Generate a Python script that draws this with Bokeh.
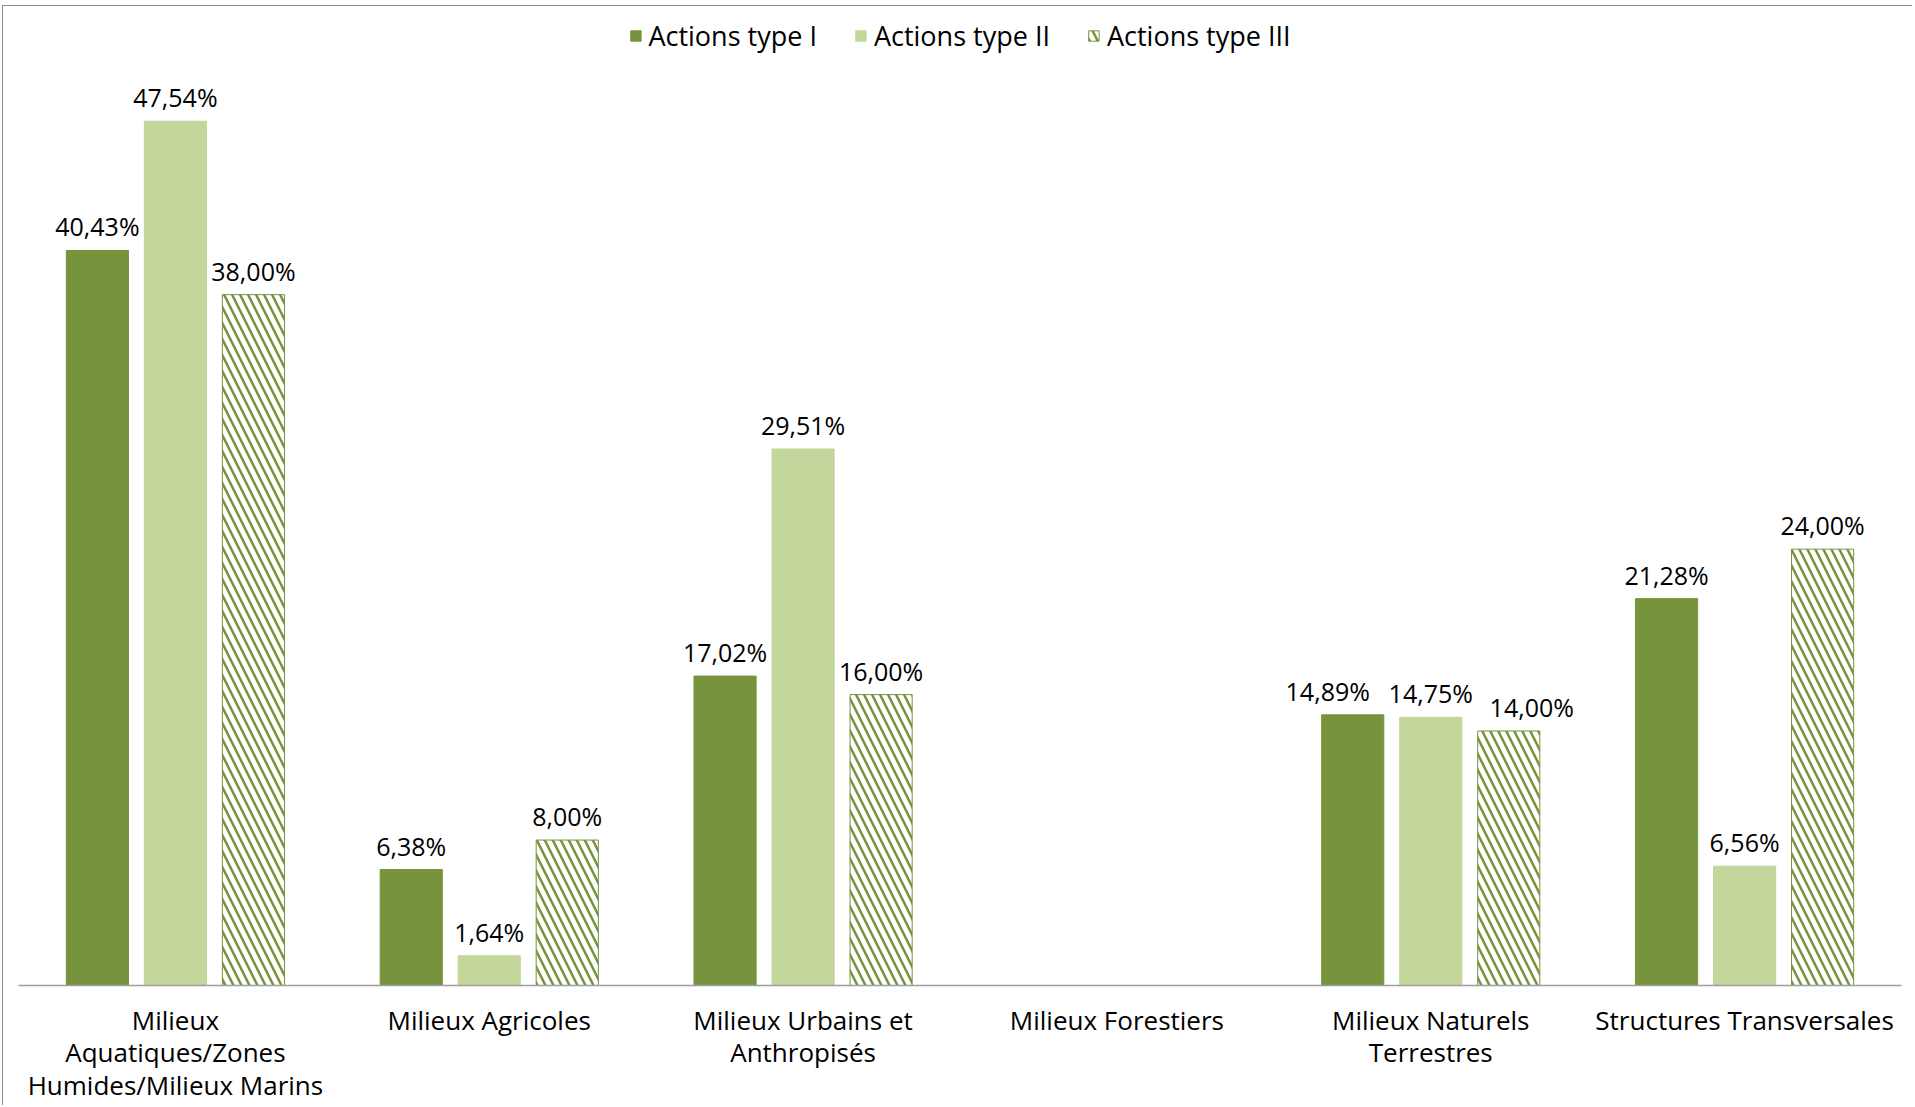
from bokeh.plotting import figure
from bokeh.models import ColumnDataSource, FactorRange, Legend, LegendItem
from bokeh.transform import dodge
from bokeh.embed import file_html
from bokeh.resources import INLINE
from bokeh.core.properties import value

NAN = float("nan")

categories = [
    "Milieux\nAquatiques/Zones\nHumides/Milieux Marins",
    "Milieux Agricoles",
    "Milieux Urbains et\nAnthropisés",
    "Milieux Forestiers",
    "Milieux Naturels\nTerrestres",
    "Structures Transversales",
]
series_names = ["Actions type I", "Actions type II", "Actions type III"]
type_1 = [40.43, 6.38, 17.02, NAN, 14.89, 21.28]
type_2 = [47.54, 1.64, 29.51, NAN, 14.75, 6.56]
type_3 = [38.00, 8.00, 16.00, NAN, 14.00, 24.00]

# horizontal nudges (px) of the value labels, to avoid overlaps (layout only)
label_nudge_1 = [0, 0, 0, 0, -25, 0]
label_nudge_3 = [0, 0, 0, 0, 23, 0]

DARK = "#77933C"
LIGHT = "#C3D69B"
FONT = "Open Sans"


def fmt(v):
    if v != v:
        return ""
    return f"{v:.2f}".replace(".", ",") + "%"


src = ColumnDataSource(dict(
    cat=categories,
    t1=type_1, t2=type_2, t3=type_3,
    l1=[fmt(v) for v in type_1],
    l2=[fmt(v) for v in type_2],
    l3=[fmt(v) for v in type_3],
    o1=label_nudge_1, o2=[0] * len(categories), o3=label_nudge_3,
))

p = figure(
    x_range=FactorRange(factors=categories, range_padding=0),
    y_range=(0, 53.85),
    width=1910, height=1100,
    output_backend="svg", toolbar_location=None,
    y_axis_location=None,
    min_border_left=15, min_border_right=12,
    min_border_top=0, min_border_bottom=121,
    styles={"border-top": "1px solid #8C8C8C", "border-left": "1px solid #8C8C8C",
            "margin-top": "5px", "margin-left": "2px"},
)
p.xgrid.visible = False
p.ygrid.visible = False
p.outline_line_color = None

ax = p.xaxis[0]
ax.axis_line_color = "#9E9E9E"
ax.axis_line_width = 1.5
ax.major_tick_line_color = None
ax.minor_tick_line_color = None
ax.major_label_text_font = FONT
ax.major_label_text_font_size = "26px"
ax.major_label_text_color = "#000000"
ax.major_label_text_line_height = 0.91
ax.major_label_standoff = 10

STEP = 0.2486
BW = 0.198

r1 = p.vbar(x=dodge("cat", -STEP, range=p.x_range), top="t1", width=BW, source=src,
            fill_color=DARK, line_color=DARK)
r2 = p.vbar(x=dodge("cat", 0, range=p.x_range), top="t2", width=BW, source=src,
            fill_color=LIGHT, line_color=LIGHT)
r3 = p.vbar(x=dodge("cat", STEP, range=p.x_range), top="t3", width=BW, source=src,
            fill_color="white", line_color=DARK, line_width=1,
            hatch_pattern="\\", hatch_color=DARK, hatch_weight=2.5, hatch_scale=16)

for off, col in [(-STEP, "1"), (0, "2"), (STEP, "3")]:
    p.text(x=dodge("cat", off, range=p.x_range), y="t" + col, text="l" + col, source=src,
           x_offset="o" + col,
           text_align="center", text_baseline="alphabetic", y_offset=-24,
           text_font=value(FONT), text_font_size="25px", text_color="#000000")

legend = Legend(
    items=[LegendItem(label=series_names[0], renderers=[r1]),
           LegendItem(label=series_names[1], renderers=[r2]),
           LegendItem(label=series_names[2], renderers=[r3])],
    location="top_center", orientation="horizontal",
    label_text_font=FONT, label_text_font_size="27px", label_text_color="#000000",
    glyph_width=13, glyph_height=13, label_standoff=7, spacing=37,
    border_line_color=None, background_fill_alpha=0,
    margin=11, padding=7,
)
p.add_layout(legend)

open("out.html", "w").write(file_html(p, INLINE))
